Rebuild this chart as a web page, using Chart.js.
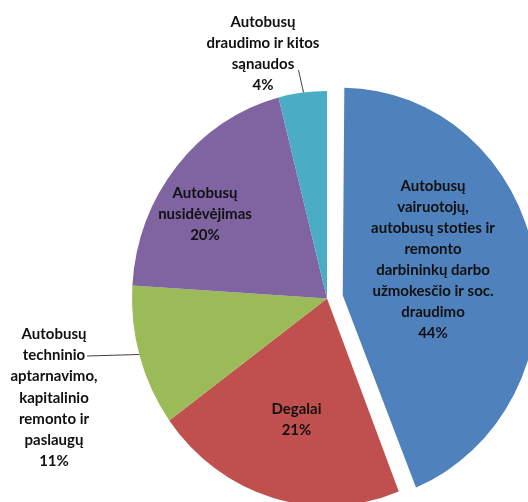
<!DOCTYPE html>
<html>
<head>
<meta charset="utf-8">
<script src="https://cdn.jsdelivr.net/npm/chart.js@4.4.1/dist/chart.umd.min.js"></script>
<style>
  html, body { margin: 0; padding: 0; background: #ffffff; overflow: hidden; }
  #wrap { width: 528px; height: 502px; position: relative; }
  canvas { display: block; }
</style>
</head>
<body>
<div id="wrap"><canvas id="chart" width="528" height="502"></canvas></div>
<script>
// ---- data ----
const categories = [
  'Autobusų\nvairuotojų,\nautobusų stoties ir\nremonto\ndarbininkų darbo\nužmokesčio ir soc.\ndraudimo',
  'Degalai',
  'Autobusų\ntechninio\naptarnavimo,\nkapitalinio\nremonto ir\npaslaugų',
  'Autobusų\nnusidėvėjimas',
  'Autobusų\ndraudimo ir kitos\nsąnaudos'
];
const shares = [44, 21, 11, 20, 4];
const percentLabels = ['44%', '21%', '11%', '20%', '4%'];

// ---- styles / layout ----
const sliceColors = ['#4F81BD', '#C0504D', '#9BBB59', '#8064A2', '#4BACC6'];
const sliceOffsets = [64, 0, 0, 0, 0];   // Chart.js moves a slice by offset/4 px
const stretchY = 207.5 / 195;            // picture is stretched vertically
const pieRadius = 195;
// label centre x and first baseline (page pixels)
const labelX = [433, 296.5, 54, 205, 263];
const labelBaseline = [190.7, 414, 339.3, 197.7, 26.7];
const linePitch = 21.1;
const labelFont = 'bold 15px Lato';

const look = {
  id: 'look',
  afterDatasetsUpdate(chart) {
    // keep exploded slice at the same radius as the others
    chart.getDatasetMeta(0).data.forEach((arc, i) => {
      const off = (sliceOffsets[i] || 0) / 4;
      const fix = 1 - Math.sin(Math.min(Math.PI, arc.circumference || 0));
      arc.outerRadius = pieRadius - off * fix;
    });
  },
  beforeDraw(chart) {
    const ctx = chart.ctx;
    ctx.save();
    ctx.fillStyle = '#ffffff';
    ctx.fillRect(0, 0, chart.width, chart.height);
    ctx.scale(1, stretchY);
  },
  afterDraw(chart) {
    const ctx = chart.ctx;
    const arcs = chart.getDatasetMeta(0).data;
    ctx.strokeStyle = '#404040';
    ctx.lineWidth = 1;
    {
      const a = arcs[4];
      const cx = a.x, cy = a.y, r = pieRadius;
      const ex = 303.5;
      const ey = cy - Math.sqrt(r * r - (ex - cx) * (ex - cx));
      ctx.beginPath();
      ctx.moveTo(298.5, 70 / stretchY);
      ctx.lineTo(ex, ey);
      ctx.stroke();
    }
    {
      const a = arcs[2];
      const cx = a.x, cy = a.y, r = pieRadius;
      const ey = 354.5 / stretchY;
      const ex = cx - Math.sqrt(r * r - (ey - cy) * (ey - cy));
      ctx.beginPath();
      ctx.moveTo(87, 356 / stretchY);
      ctx.lineTo(ex, ey);
      ctx.stroke();
    }
    ctx.font = labelFont;
    ctx.fillStyle = '#111111';
    ctx.textAlign = 'center';
    ctx.textBaseline = 'alphabetic';
    categories.forEach((cat, i) => {
      const lines = cat.split('\n').concat([percentLabels[i]]);
      lines.forEach((ln, j) => {
        ctx.fillText(ln, labelX[i], (labelBaseline[i] + j * linePitch) / stretchY);
      });
    });
    ctx.restore();
  }
};

new Chart(document.getElementById('chart'), {
  type: 'pie',
  data: {
    labels: categories,
    datasets: [{
      data: shares,
      backgroundColor: sliceColors,
      borderWidth: 0,
      offset: sliceOffsets,
      radius: pieRadius,
      clip: false
    }]
  },
  options: {
    responsive: false,
    animation: false,
    events: [],
    layout: { padding: { left: 126, right: 0, top: 59, bottom: 0 } },
    plugins: { legend: { display: false }, tooltip: { enabled: false } }
  },
  plugins: [look]
});
</script>
</body>
</html>
